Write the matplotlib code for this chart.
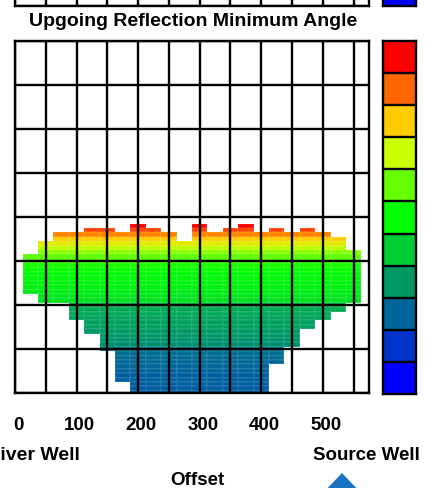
import numpy as np
import matplotlib
matplotlib.use('Agg')
import matplotlib.pyplot as plt
from matplotlib.colors import ListedColormap, LinearSegmentedColormap
from matplotlib.transforms import ScaledTranslation
from matplotlib.patches import Polygon

plt.rcParams['font.family'] = ['Liberation Sans', 'DejaVu Sans']
plt.rcParams['font.weight'] = 'bold'

# ---------------- data ----------------
title = "Upgoing Reflection Minimum Angle"
x_label = "Offset"
left_well = "Receiver Well"
right_well = "Source Well"

offset = [25, 50, 75, 100, 125, 150, 175, 200, 225, 250, 275,
          300, 325, 350, 375, 400, 425, 450, 475, 500, 525, 550]
top_depth = [245, 230, 220, 220, 215, 215, 220, 210, 215, 220, 230,
             210, 220, 215, 210, 220, 215, 220, 215, 220, 225, 240]
bottom_depth = [285, 295, 295, 315, 330, 350, 385, 400, 400, 400, 400,
                400, 400, 400, 400, 400, 365, 345, 325, 315, 305, 295]

depth = [210, 215, 220, 225, 230, 235, 240, 245, 250, 255, 260, 265, 270,
         275, 280, 285, 290, 295, 300, 305, 310, 315, 320, 325, 330, 335,
         340, 345, 350, 355, 360, 365, 370, 375, 380, 385, 390, 395, 400]
angle_by_depth = [10.0, 9.3, 8.7, 8.0, 7.4, 6.8, 6.3, 5.9, 5.5, 5.2, 5.0,
                  4.9, 4.85, 4.8, 4.7, 4.6, 4.5, 4.4, 3.4, 3.35, 3.3, 3.2,
                  3.15, 3.1, 3.0, 2.95, 2.9, 2.8, 2.2, 2.15, 2.1, 2.05, 2.0,
                  1.95, 1.9, 1.9, 1.85, 1.8, 1.8]

xtick_values = [0, 100, 200, 300, 400, 500]
xtick_labels = ['0', '100', '200', '300', '400', '500']

legend_colors = ['#0000ff', '#0033cc', '#006699', '#009966', '#00cc33',
                 '#00ff00', '#66ff00', '#ccff00', '#ffcc00', '#ff6600',
                 '#ff0000']

# ---------------- grid of values ----------------
Z = np.full((len(depth), len(offset)), np.nan)
for j in range(len(offset)):
    for i, d in enumerate(depth):
        if top_depth[j] <= d <= bottom_depth[j]:
            Z[i, j] = angle_by_depth[i]
Z = np.ma.masked_invalid(Z)

cmap_cont = LinearSegmentedColormap.from_list('angle', legend_colors)
cmap_disc = ListedColormap(legend_colors)

W, H = 428, 488
fig = plt.figure(figsize=(W / 100, H / 100), dpi=100)


def rect(x0, y_top, x1, y_bot):
    return [x0 / W, (H - y_bot) / H, (x1 - x0) / W, (y_bot - y_top) / H]


def style_grid_axes(ax):
    ax.set_xlim(0, 575)
    ax.set_ylim(400, 0)
    ax.set_xticks(np.arange(0, 576, 50), minor=True)
    ax.set_yticks(np.arange(0, 401, 50))
    ax.set_yticklabels([])
    ax.grid(True, which='both', color='black', lw=1.7)
    ax.set_axisbelow(False)
    ax.tick_params(which='both', length=0)
    for s in ax.spines.values():
        s.set_linewidth(1.7)
        s.set_color('black')


def style_cbar(cax):
    vals = np.arange(len(legend_colors)).reshape(-1, 1)
    cax.pcolormesh([0, 1], np.arange(len(legend_colors) + 1), vals,
                   cmap=cmap_disc, vmin=-0.5, vmax=len(legend_colors) - 0.5)
    cax.set_xlim(0, 1)
    cax.set_ylim(0, len(legend_colors))
    cax.set_xticks([])
    cax.set_yticks(np.arange(1, len(legend_colors)))
    cax.set_yticklabels([])
    cax.tick_params(length=0)
    cax.grid(True, axis='y', color='black', lw=1.7)
    cax.set_axisbelow(False)
    for s in cax.spines.values():
        s.set_linewidth(1.7)


# remnant of chart above (cropped)
ax_prev = fig.add_axes(rect(15, -346, 369, 6))
style_grid_axes(ax_prev)
ax_prev.set_xticks([])
cax_prev = fig.add_axes(rect(383, -347, 416, 6))
style_cbar(cax_prev)

# main chart
ax = fig.add_axes(rect(15, 41, 369, 393))
ax.pcolormesh(offset, depth, Z, shading='nearest', cmap=cmap_cont,
              vmin=0, vmax=len(legend_colors) - 1, zorder=1,
              edgecolors=(1, 1, 1, 0.07), linewidth=0.3)
style_grid_axes(ax)
ax.set_xticks(xtick_values)
ax.set_xticklabels(xtick_labels, fontsize=13.5, fontweight='bold')
ax.tick_params(axis='x', pad=17)
for lab in ax.get_xticklabels():
    lab.set_transform(lab.get_transform() +
                      ScaledTranslation(3 / 100, 0, fig.dpi_scale_trans))

cax = fig.add_axes(rect(383, 41, 416, 394))
style_cbar(cax)

# text
fig.text(193 / W, 1 - 26.5 / H, title, ha='center', va='baseline',
         fontsize=14, fontweight='bold')
fig.text(80 / W, 1 - 460 / H, left_well, ha='right', va='baseline',
         fontsize=14, fontweight='bold')
fig.text(313 / W, 1 - 460 / H, right_well, ha='left', va='baseline',
         fontsize=13.5, fontweight='bold')
fig.text(197 / W, 1 - 485 / H, x_label, ha='center', va='baseline',
         fontsize=13.5, fontweight='bold')

tri = Polygon([(323 / W, 1 - 493 / H), (342 / W, 1 - 473 / H),
               (361 / W, 1 - 493 / H)], closed=True,
              transform=fig.transFigure, facecolor='#1a72c2',
              edgecolor='none')
fig.add_artist(tri)

fig.savefig('out.png', dpi=100)
